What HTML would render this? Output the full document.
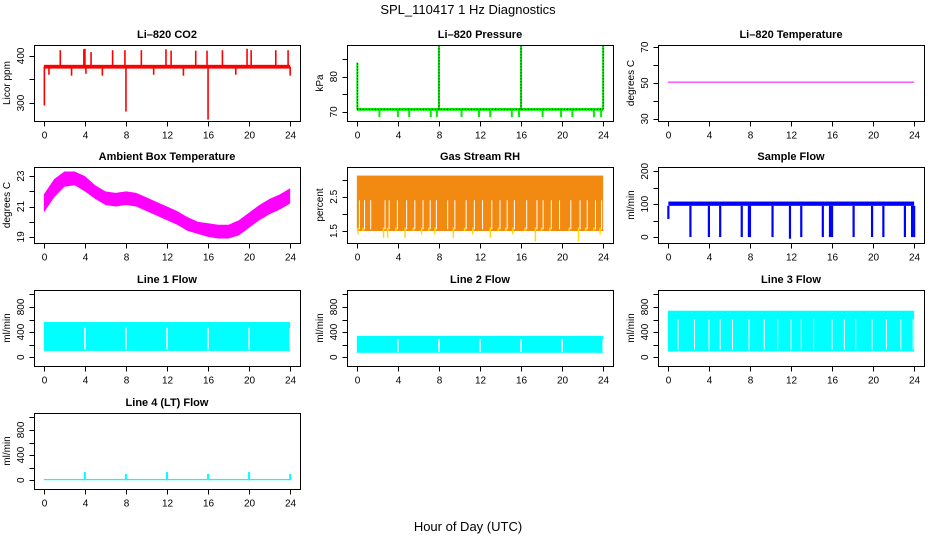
<!DOCTYPE html>
<html><head><meta charset="utf-8">
<style>
html,body{margin:0;padding:0;background:#fff;}
svg{display:block;font-family:"Liberation Sans",Arial,sans-serif;}
.t{font-weight:bold;font-size:11px;text-anchor:middle;}
.tk{font-size:10px;}
</style></head>
<body>
<svg id="fig" width="936" height="540" viewBox="0 0 936 540" xmlns="http://www.w3.org/2000/svg">
<text x="468" y="14" font-size="13" text-anchor="middle">SPL_110417  1 Hz Diagnostics</text>
<text x="468" y="531" font-size="13" text-anchor="middle">Hour of Day (UTC)</text>
</svg>
<script>
// ---- data ----
const xTicks = [0,4,8,12,16,20,24];
const co2BandLow = 373, co2BandHigh = 381;
const co2SpikeHours = [1.6,3.9,4.0,4.6,6.7,7.9,9.5,11.9,12.4,14.8,15.9,17.4,19.8,20.2,22.6,23.8,0.05,8.0,16.0,2.7,5.7,10.7,13.6,18.7,24.0,0.5,4.1];
const co2SpikeValues = [412,414,415,408,412,412,412,414,411,411,411,412,415,412,412,412,295,282,265,358,358,360,358,360,358,360,362];
const presBase = 70.7;
const presSpikeHours = [0.05,8.0,16.0,24.0,2.2,4.0,5.1,7.2,7.8,10.2,11.9,13.0,15.1,15.8,18.1,19.9,21.0,23.1,23.8];
const presSpikeValues = [84,89,89,89,68.5,68.5,68.5,68.5,68.5,68.5,68.5,68.5,68.5,68.5,68.5,68.5,68.5,68.5,68.5];
const tempValue = 50.5;
const ambHours = [0,1,2,3,4,5,6,7,8,9,10,11,12,13,14,15,16,17,18,19,20,21,22,23,24];
const ambHigh = [21.8,22.8,23.3,23.3,23.0,22.4,22.0,21.9,22.0,21.9,21.6,21.3,21.0,20.7,20.3,20.0,19.9,19.8,19.8,20.1,20.6,21.1,21.5,21.8,22.2];
const ambLow = [20.6,21.6,22.3,22.4,22.0,21.5,21.1,21.0,21.1,21.0,20.7,20.4,20.1,19.8,19.4,19.2,19.0,18.9,18.9,19.1,19.6,20.1,20.5,20.8,21.2];
const rhHigh = 3.12, rhLow = 1.5;
const rhDipHours = [0.1,0.6,1.2,2.6,3.0,3.8,4.7,5.5,6.3,7.0,7.6,8.7,9.4,10.5,11.3,12.1,13.0,13.8,14.5,15.2,16.4,17.4,18.0,18.8,19.6,20.7,21.6,22.3,23.1,23.7];
const rhDipValues = [1.4,1.5,1.6,1.3,1.3,1.5,1.3,1.5,1.4,1.5,1.4,1.6,1.3,1.5,1.4,1.6,1.3,1.5,1.5,1.4,1.5,1.2,1.5,1.5,1.6,1.5,1.2,1.5,1.5,1.4];
const flowLow = 95, flowHigh = 108;
const flowDipHours = [0.05,2.2,4.0,5.1,7.2,7.9,8.0,10.2,11.9,13.0,15.1,15.8,16.0,18.1,19.9,21.0,23.1,23.8,24.0];
const flowDipValues = [55,0,0,0,0,0,0,0,-5,0,0,0,0,0,0,0,0,0,0];
const line1Low = 100, line1High = 560;
const line1Gaps = [4,8,12,16,20,24];
const line2Low = 70, line2High = 340;
const line2Gaps = [4,8,12,16,20,24];
const line3Low = 90, line3High = 740;
const line3Gaps = [1.0,2.6,4.0,5.1,6.3,7.9,9.4,10.7,12.0,13.0,14.2,16.0,17.2,18.3,19.9,21.3,22.7,23.9];
const line4Low = 0, line4High = 20;
const line4SpikeHours = [4,8,12,16,20,24];
const line4SpikeValues = [130,100,130,100,130,100];

// ---- layout ----
const svg = document.getElementById('fig');
const NS = 'http://www.w3.org/2000/svg';
const colL = [34,347,658], rowT = [45,167,290,413], W = 266, H = 76;
function mk(tag, attrs, parent){const e=document.createElementNS(NS,tag);for(const k in attrs)e.setAttribute(k,attrs[k]);(parent||svg).appendChild(e);return e;}

function panel(name, col, row, title, ylab, ymin, ymax, yTicks, yLabels, draw){
  const L=colL[col], T=rowT[row];
  const g=mk('g',{});
  
  
  const xs=h=>L+(h+0.96)/25.92*W;
  const ys=v=>T+H-(v-ymin)/(ymax-ymin)*H;
  const clip=mk('clipPath',{id:'c'+name},g);
  mk('rect',{x:L,y:T,width:W,height:H},clip);
  const pg=mk('g',{'clip-path':'url(#c'+name+')'},g);
  
  
  draw(pg,xs,ys);
  const box=mk('rect',{x:L+0.5,y:T+0.5,width:W,height:H,fill:'none',stroke:'#000','stroke-width':1},g);
  
  
  const tt=mk('text',{x:L+W/2,y:T-7,class:'t'},g); tt.textContent=title;
  
  
  const xa=mk('g',{},g);
  
  
  const yb=T+H+0.5;
  mk('line',{x1:xs(xTicks[0]),x2:xs(xTicks[xTicks.length-1]),y1:yb,y2:yb,stroke:'#000'},xa);
  xTicks.forEach(h=>{const x=Math.round(xs(h))+0.5;mk('line',{x1:x,x2:x,y1:yb,y2:yb+5,stroke:'#000'},xa);
    const t=mk('text',{x:x,y:yb+17,class:'tk','text-anchor':'middle'},xa);t.textContent=h;});
  const ya=mk('g',{},g);
  
  
  const xl=L+0.5;
  mk('line',{x1:xl,x2:xl,y1:ys(yTicks[0]),y2:ys(yTicks[yTicks.length-1]),stroke:'#000'},ya);
  yTicks.forEach(v=>{const y=Math.round(ys(v))+0.5;mk('line',{x1:xl,x2:xl-5,y1:y,y2:y,stroke:'#000'},ya);});
  yLabels.forEach(v=>{const y=ys(v);const t=mk('text',{x:0,y:0,class:'tk','text-anchor':'middle',transform:'translate('+(L-10)+','+y+') rotate(-90)'},ya);t.textContent=v;});
  const yt=mk('text',{x:0,y:0,'font-size':10,'text-anchor':'middle',transform:'translate('+(L-24)+','+(T+H/2)+') rotate(-90)'},g);
  yt.textContent=ylab;
  
  
}
function band(g,xs,ys,h0,h1,lo,hi,fill){const y1=ys(hi),y2=ys(lo);return mk('rect',{x:xs(h0),y:y1,width:xs(h1)-xs(h0),height:y2-y1,fill:fill},g);}
function vline(g,xs,ys,h,v0,v1,col,w){return mk('line',{x1:xs(h),x2:xs(h),y1:ys(v0),y2:ys(v1),stroke:col,'stroke-width':w||1.5},g);}

panel('co2-panel',0,0,'Li\u2013820 CO2','Licor ppm',262,423,[300,350,400],[300,400],(g,xs,ys)=>{
  band(g,xs,ys,0,24,co2BandLow,co2BandHigh,'#ff0000');
  co2SpikeHours.forEach((h,i)=>vline(g,xs,ys,h,(co2BandLow+co2BandHigh)/2,co2SpikeValues[i],'#ff0000',1.6));
});
panel('pressure-panel',1,0,'Li\u2013820 Pressure','kPa',67.4,89,[70,75,80,85],[70,80],(g,xs,ys)=>{
  band(g,xs,ys,0,24,presBase-0.4,presBase+0.4,'#00ee00');
  presSpikeHours.forEach((h,i)=>vline(g,xs,ys,h,presBase,presSpikeValues[i],'#00ee00',2));
  mk('line',{x1:xs(0),x2:xs(24),y1:ys(presBase),y2:ys(presBase),stroke:'#000','stroke-dasharray':'1,2'},g);
  presSpikeHours.slice(0,4).forEach((h,i)=>mk('line',{x1:xs(h),x2:xs(h),y1:ys(presBase),y2:ys(presSpikeValues[i]),stroke:'#000','stroke-dasharray':'1,2'},g));
});
panel('li820-temp-panel',2,0,'Li\u2013820 Temperature','degrees C',28.8,71.2,[30,40,50,60,70],[30,50,70],(g,xs,ys)=>{
  mk('line',{x1:xs(0),x2:xs(24),y1:ys(tempValue),y2:ys(tempValue),stroke:'#ff00ff'},g);
});
panel('ambient-temp-panel',0,1,'Ambient Box Temperature','degrees C',18.6,23.6,[19,20,21,22,23],[19,21,23],(g,xs,ys)=>{
  let p='';ambHours.forEach((h,i)=>p+=(i?'L':'M')+xs(h)+','+ys(ambHigh[i]));
  for(let i=ambHours.length-1;i>=0;i--)p+='L'+xs(ambHours[i])+','+ys(ambLow[i]);
  mk('path',{d:p+'Z',fill:'#ff00ff'},g);
});
panel('rh-panel',1,1,'Gas Stream RH','percent',1.15,3.37,[1.5,2,2.5,3],[1.5,2.5],(g,xs,ys)=>{
  band(g,xs,ys,0,24,rhLow,rhHigh,'#f28a12');
  rhDipHours.forEach((h,i)=>{
    vline(g,xs,ys,h+0.15,2.4,rhLow+0.05,'#ffffff',1);
    vline(g,xs,ys,h,rhLow+0.1,rhDipValues[i],'#ffdd00',1.5);});
});
panel('sample-flow-panel',2,1,'Sample Flow','ml/min',-18,213,[0,50,100,150,200],[0,100,200],(g,xs,ys)=>{
  band(g,xs,ys,0.05,24,flowLow,flowHigh,'#0000ff');
  flowDipHours.forEach((h,i)=>vline(g,xs,ys,h,flowLow,flowDipValues[i],'#0000ff',2.2));
});
function flowPanel(name,col,row,title,lo,hi,gaps,gw){
  panel(name,col,row,title,'ml/min',-140,1070,[0,200,400,600,800,1000],[0,400,800],(g,xs,ys)=>{
    band(g,xs,ys,0,24,lo,hi,'#00ffff');
    gaps.forEach(h=>vline(g,xs,ys,h,lo+(hi-lo)*0.05,hi-(hi-lo)*0.2,'#ffffff',gw));
  });
}
flowPanel('line1-flow-panel',0,2,'Line 1 Flow',line1Low,line1High,line1Gaps,1.5);
flowPanel('line2-flow-panel',1,2,'Line 2 Flow',line2Low,line2High,line2Gaps,1.5);
flowPanel('line3-flow-panel',2,2,'Line 3 Flow',line3Low,line3High,line3Gaps,1);
panel('line4-flow-panel',0,3,'Line 4 (LT) Flow','ml/min',-140,1070,[0,200,400,600,800,1000],[0,400,800],(g,xs,ys)=>{
  band(g,xs,ys,0,24,line4Low,line4High,'#00ffff');
  line4SpikeHours.forEach((h,i)=>vline(g,xs,ys,h,line4Low,line4SpikeValues[i],'#00ffff',2));
});
</script>
</body></html>
